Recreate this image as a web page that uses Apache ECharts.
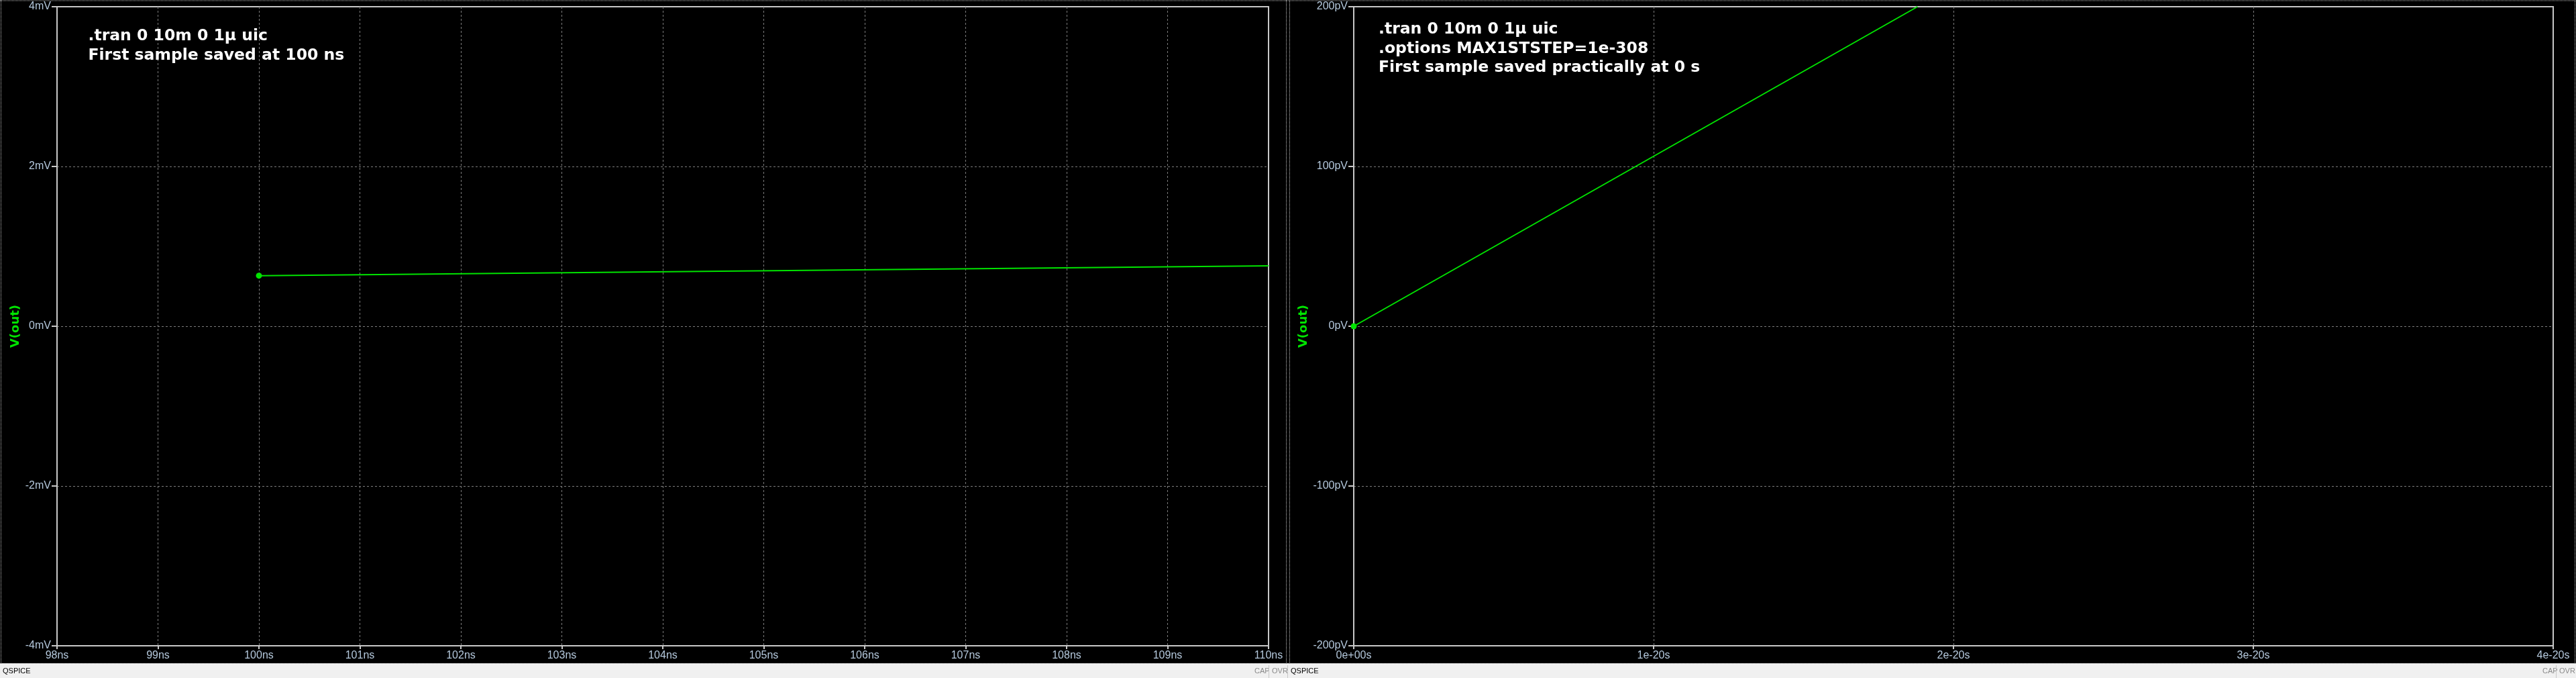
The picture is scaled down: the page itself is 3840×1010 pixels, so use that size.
<!DOCTYPE html>
<html>
<head>
<meta charset="utf-8">
<script src="https://cdn.jsdelivr.net/npm/echarts@6/dist/echarts.min.js"></script>
<style>
html,body{margin:0;padding:0;background:#000;}
#chart{width:3840px;height:1010px;}
</style>
</head>
<body>
<div id="chart"></div>
<script>
// ---- Left panel data (time in ns, voltage in mV) ----
const leftTimeNs = [100, 110];
const leftVoutMv = [0.633, 0.756];
const leftXTicks = [98, 99, 100, 101, 102, 103, 104, 105, 106, 107, 108, 109, 110];
const leftYTicks = [-4, -2, 0, 2, 4];

// ---- Right panel data (time in units of 1e-20 s, voltage in pV) ----
const rightTimeE20 = [0, 1.88];
const rightVoutPv = [0, 200];
const rightXTicks = [0, 1, 2, 3, 4];
const rightYTicks = [-200, -100, 0, 100, 200];

const leftNote = ['.tran 0 10m 0 1\u00b5 uic', 'First sample saved at 100 ns'];
const rightNote = ['.tran 0 10m 0 1\u00b5 uic', '.options MAX1STSTEP=1e-308', 'First sample saved practically at 0 s'];
const yName = 'V(out)';

const GREEN = '#00e400';
const FRAME = '#c8c8c8';
const GRIDC = '#7c7c7c';
const LABEL = '#b4c8dc';

function xAxisCfg(gi, ticks, fmt) {
  return {
    type: 'value', gridIndex: gi,
    min: ticks[0], max: ticks[ticks.length - 1], interval: ticks[1] - ticks[0],
    axisLine: { show: true, onZero: false, lineStyle: { color: FRAME, width: 2 } },
    axisTick: { show: true, length: 5, lineStyle: { color: FRAME, width: 2 } },
    axisLabel: { show: true, color: LABEL, fontSize: 16, fontFamily: 'Liberation Sans', margin: 7,
      showMinLabel: true, showMaxLabel: true, formatter: fmt },
    splitLine: { show: true, showMinLine: false, showMaxLine: false,
      lineStyle: { color: GRIDC, width: 1, type: [3, 3] } }
  };
}
function yAxisCfg(gi, ticks, fmt, gap) {
  return {
    type: 'value', gridIndex: gi,
    min: ticks[0], max: ticks[ticks.length - 1], interval: ticks[1] - ticks[0],
    name: yName, nameLocation: 'middle', nameRotate: 90, nameGap: gap,
    nameTextStyle: { color: GREEN, fontFamily: 'DejaVu Sans', fontWeight: 'bold', fontSize: 18 },
    axisLine: { show: true, onZero: false, lineStyle: { color: FRAME, width: 2 } },
    axisTick: { show: true, length: 8, lineStyle: { color: FRAME, width: 2 } },
    axisLabel: { show: true, color: LABEL, fontSize: 16, fontFamily: 'Liberation Sans', margin: 9,
      showMinLabel: true, showMaxLabel: true, formatter: fmt },
    splitLine: { show: true, showMinLine: false, showMaxLine: false,
      lineStyle: { color: GRIDC, width: 1, type: [3, 3] } }
  };
}
function seriesData(xs, ys) {
  return xs.map((x, i) => i === 0 ? { value: [x, ys[i]] } : { value: [x, ys[i]], symbol: 'none' });
}

function noteText(x, y, lines) {
  return { type: 'text', x: x, y: y, z: 100,
    style: { text: lines.join('\n'), fill: '#ffffff', font: 'bold 23.5px "DejaVu Sans"',
      lineHeight: 28.3, align: 'left', verticalAlign: 'top' } };
}
function dotted(x1, y1, x2, y2) {
  return { type: 'line', z: 100, shape: { x1, y1, x2, y2 },
    style: { stroke: '#c8c8c8', lineWidth: 1, lineDash: [1, 1] } };
}
function statusText(x, t, color) {
  return { type: 'text', x: x, y: 1000, z: 101,
    style: { text: t, fill: color, font: '11px "Liberation Sans"', align: 'left', verticalAlign: 'middle' } };
}
function sep(x) {
  return { type: 'line', z: 101, shape: { x1: x, y1: 991, x2: x, y2: 1010 },
    style: { stroke: '#c8c8c8', lineWidth: 1 } };
}

const chart = echarts.init(document.getElementById('chart'), null, { renderer: 'canvas' });
chart.setOption({
  backgroundColor: '#000000',
  animation: false,
  grid: [
    { left: 85, right: 1949, top: 10, bottom: 48, show: true, borderColor: FRAME, borderWidth: 2, backgroundColor: 'transparent' },
    { left: 2018, right: 34, top: 10, bottom: 48, show: true, borderColor: FRAME, borderWidth: 2, backgroundColor: 'transparent' }
  ],
  xAxis: [
    xAxisCfg(0, leftXTicks, v => v + 'ns'),
    xAxisCfg(1, rightXTicks, v => v === 0 ? '0e+00s' : v + 'e-20s')
  ],
  yAxis: [
    yAxisCfg(0, leftYTicks, v => v + 'mV', 53),
    yAxisCfg(1, rightYTicks, v => v + 'pV', 66)
  ],
  series: [
    { type: 'line', xAxisIndex: 0, yAxisIndex: 0, data: seriesData(leftTimeNs, leftVoutMv),
      symbol: 'circle', symbolSize: 9, showSymbol: true, clip: true,
      lineStyle: { color: GREEN, width: 2 }, itemStyle: { color: GREEN } },
    { type: 'line', xAxisIndex: 1, yAxisIndex: 1, data: seriesData(rightTimeE20, rightVoutPv),
      symbol: 'circle', symbolSize: 9, showSymbol: true, clip: true,
      lineStyle: { color: GREEN, width: 2 }, itemStyle: { color: GREEN } }
  ],
  graphic: [
    noteText(131.5, 40, leftNote),
    noteText(2055, 30, rightNote),
    { type: 'rect', z: 99, shape: { x: 0, y: 988, width: 3840, height: 22 }, style: { fill: '#f0f0f0' } },
    dotted(0, 1, 3840, 1),
    dotted(1.5, 0, 1.5, 988),
    dotted(1917.5, 0, 1917.5, 988),
    dotted(1922.5, 0, 1922.5, 988),
    dotted(3838.5, 0, 3838.5, 988),
    dotted(0, 988.5, 3840, 988.5),
    statusText(4, 'QSPICE', '#000000'),
    statusText(1870, 'CAP', '#8a8a8a'),
    sep(1891.5),
    statusText(1896, 'OVR', '#8a8a8a'),
    sep(1919.5),
    statusText(1924, 'QSPICE', '#000000'),
    statusText(3790, 'CAP', '#8a8a8a'),
    sep(3810.5),
    statusText(3815, 'OVR', '#8a8a8a')
  ]
});
</script>
</body>
</html>
